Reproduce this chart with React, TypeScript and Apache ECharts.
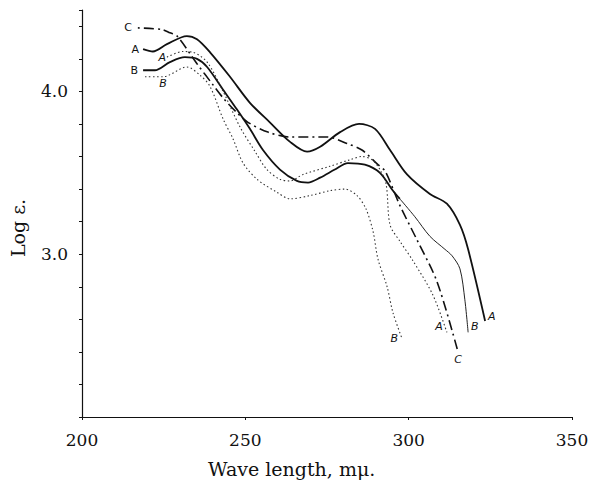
import React, { useEffect, useRef } from "react";
import * as echarts from "echarts";

// Curve A (solid)
const solidA_wl = [218.7, 221.7, 226.0, 232.1, 235.2, 239.2, 245.3, 251.4, 257.5, 263.7, 268.9, 272.9, 279.0, 284.8, 289.7, 294.3, 299.5, 306.5, 311.7, 315.7, 318.2, 323.4];
const solidA_log = [4.26, 4.245, 4.29, 4.34, 4.32, 4.24, 4.09, 3.93, 3.81, 3.69, 3.63, 3.66, 3.75, 3.80, 3.77, 3.64, 3.49, 3.37, 3.31, 3.18, 3.03, 2.59];

// Curve B (solid, heavy part then light tail)
const solidB_wl = [218.7, 222.3, 226.9, 231.5, 235.2, 238.3, 243.2, 247.4, 251.4, 255.4, 260.6, 265.8, 269.2, 272.9, 277.4, 281.4, 286.6, 291.2, 295.2, 297.3];
const solidB_log = [4.13, 4.13, 4.18, 4.21, 4.20, 4.15, 4.01, 3.89, 3.77, 3.64, 3.52, 3.45, 3.44, 3.47, 3.52, 3.56, 3.55, 3.50, 3.39, 3.34];
const solidBTail_wl = [297.3, 301.9, 306.5, 311.1, 313.3, 315.7, 317.2, 318.2];
const solidBTail_log = [3.34, 3.23, 3.11, 3.03, 2.99, 2.91, 2.72, 2.52];

// Curve C (dash-dot)
const curveC_wl = [217.1, 224.5, 226.9, 229.1, 235.2, 240.1, 243.2, 247.4, 250.8, 256.9, 263.7, 275.0, 281.1, 285.7, 290.6, 292.8, 297.3, 302.5, 308.7, 315.1];
const curveC_log = [4.39, 4.38, 4.36, 4.34, 4.17, 4.04, 3.96, 3.87, 3.81, 3.75, 3.72, 3.72, 3.68, 3.64, 3.55, 3.51, 3.30, 3.09, 2.83, 2.40];

// Curve A (dotted)
const dottedA_wl = [226.0, 230.9, 234.0, 238.3, 243.2, 248.4, 253.0, 256.6, 260.6, 263.7, 267.7, 275.9, 282.0, 285.7, 288.8, 291.2, 293.1, 294.3, 297.3, 301.3, 307.4, 311.7];
const dottedA_log = [4.21, 4.245, 4.24, 4.18, 4.00, 3.78, 3.63, 3.52, 3.46, 3.45, 3.49, 3.54, 3.58, 3.60, 3.58, 3.52, 3.43, 3.18, 3.08, 2.96, 2.75, 2.52];

// Curve B (dotted)
const dottedB_wl = [219.3, 224.8, 232.1, 236.1, 239.2, 243.2, 246.2, 249.3, 253.6, 259.7, 263.7, 269.8, 275.9, 280.5, 284.2, 286.9, 289.1, 290.6, 293.4, 295.2, 298.0];
const dottedB_log = [4.09, 4.09, 4.15, 4.10, 4.03, 3.83, 3.71, 3.56, 3.46, 3.38, 3.34, 3.36, 3.39, 3.40, 3.36, 3.28, 3.14, 2.97, 2.80, 2.64, 2.48];

const yLabelTicks = [3.0, 4.0];

const serif = "'DejaVu Serif', 'Liberation Serif', serif";
const letterFont = "'DejaVu Sans', sans-serif";
const INK = "#111";

type Lab = { idx: number; text: string; position: any; italic?: boolean; offset?: number[]; distance?: number };

function build(xs: number[], ys: number[], labels: Lab[]) {
  return xs.map((x, i) => {
    const l = labels.find((k) => (k.idx < 0 ? xs.length + k.idx : k.idx) === i);
    if (!l) return [x, ys[i]];
    return {
      value: [x, ys[i]],
      label: {
        show: true,
        formatter: l.text,
        position: l.position,
        distance: l.distance ?? 3,
        offset: l.offset ?? [0, 0],
        fontFamily: letterFont,
        fontStyle: l.italic ? "italic" : "normal",
        fontSize: 11,
        color: INK,
        textBorderWidth: 0,
      },
    };
  });
}

export default function App() {
  const ref = useRef<HTMLDivElement>(null);
  useEffect(() => {
    if (!ref.current) return;
    const chart = echarts.init(ref.current, null, { renderer: "svg" });
    const base = {
      type: "line",
      smooth: 0.3,
      showSymbol: true,
      symbol: "circle",
      symbolSize: 0,
      itemStyle: { color: INK },
      label: { show: false, color: INK },
      silent: true,
    };
    chart.setOption({
      animation: false,
      backgroundColor: "#fff",
      color: [INK],
      grid: { left: 82, right: 21, top: 10, bottom: 66 },
      xAxis: {
        type: "value",
        min: 200,
        max: 350,
        interval: 50,
        axisLine: { show: true, lineStyle: { color: INK, width: 1.2 } },
        axisTick: { show: true, length: 3, lineStyle: { color: INK } },
        splitLine: { show: false },
        axisLabel: { margin: 14, fontFamily: serif, fontSize: 17, color: INK },
      },
      yAxis: {
        type: "value",
        min: 2.0,
        max: 4.5,
        interval: 0.2,
        axisLine: { show: true, lineStyle: { color: INK, width: 1.2 } },
        axisTick: { show: true, length: 3, lineStyle: { color: INK } },
        splitLine: { show: false },
        axisLabel: {
          margin: 14,
          fontFamily: serif,
          fontSize: 17,
          color: INK,
          formatter: (v: number) => (yLabelTicks.some((t) => Math.abs(t - v) < 1e-6) ? v.toFixed(1) : ""),
        },
      },
      graphic: [
        {
          type: "text",
          left: 208,
          top: 459,
          style: { text: "Wave length, m\u03bc.", font: `19px ${serif}`, fill: INK },
        },
        {
          type: "text",
          x: 18,
          y: 228,
          rotation: Math.PI / 2,
          style: { text: "Log \u03b5.", font: `19px ${serif}`, fill: INK, align: "center", verticalAlign: "middle" },
        },
      ],
      series: [
        {
          ...base,
          name: "A solid",
          data: build(solidA_wl, solidA_log, [
            { idx: 0, text: "A", position: "left", distance: 4 },
            { idx: -1, text: "A", position: "right", italic: true, offset: [0, -4] },
          ]),
          lineStyle: { color: INK, width: 1.8 },
        },
        {
          ...base,
          name: "B solid",
          data: build(solidB_wl, solidB_log, [{ idx: 0, text: "B", position: "left", distance: 5 }]),
          lineStyle: { color: INK, width: 1.8 },
        },
        {
          ...base,
          name: "B solid tail",
          data: build(solidBTail_wl, solidBTail_log, [
            { idx: -1, text: "B", position: "right", italic: true, offset: [0, -6] },
          ]),
          lineStyle: { color: "#222", width: 1 },
        },
        {
          ...base,
          name: "C",
          data: build(curveC_wl, curveC_log, [
            { idx: 0, text: "C", position: "left", distance: 6 },
            { idx: -1, text: "C", position: "bottom", italic: true, distance: 2 },
          ]),
          lineStyle: { color: INK, width: 1.6, type: [2, 4, 10, 4] },
        },
        {
          ...base,
          name: "A dotted",
          data: build(dottedA_wl, dottedA_log, [
            { idx: 0, text: "A", position: "left", italic: true, distance: 1, offset: [0, 0] },
            { idx: -1, text: "A", position: "left", italic: true, distance: 4, offset: [0, -6] },
          ]),
          lineStyle: { color: "#333", width: 1.1, type: [1.5, 2.5] },
        },
        {
          ...base,
          name: "B dotted",
          data: build(dottedB_wl, dottedB_log, [
            { idx: 1, text: "B", position: "bottom", italic: true, distance: 1 },
            { idx: -1, text: "B", position: "left", italic: true, distance: 4 },
          ]),
          lineStyle: { color: "#333", width: 1.1, type: [1.5, 2.5] },
        },
      ],
    });
    return () => chart.dispose();
  }, []);
  return <div ref={ref} style={{ position: "absolute", left: 0, top: 0, width: 593, height: 483 }} />;
}
